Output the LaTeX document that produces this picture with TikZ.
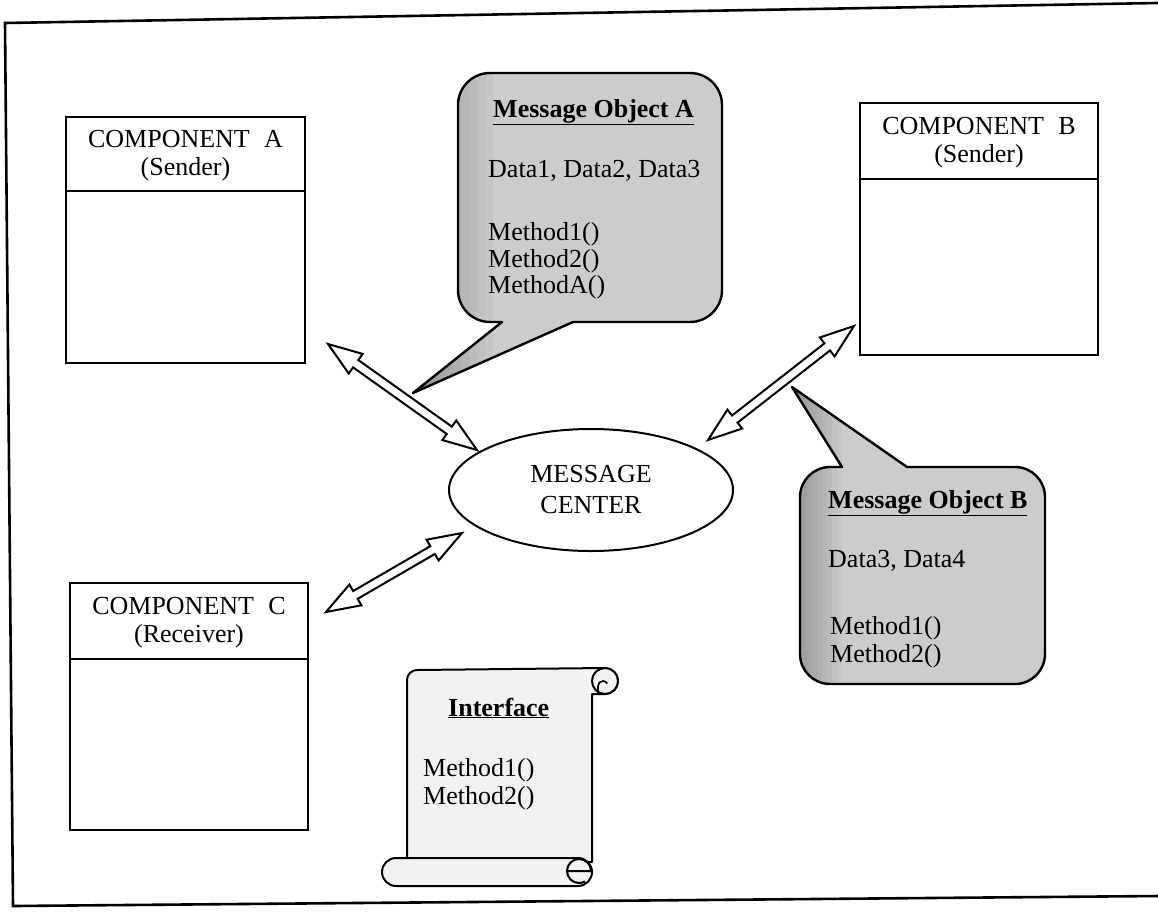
\documentclass[tikz,border=0pt]{standalone}
\usepackage{fontspec}
\setmainfont{Liberation Serif}
\usetikzlibrary{calc,shapes.geometric}

% half widths and head length of the double block arrows
\newcommand\arrHeadLen{34pt}
\newcommand\arrHeadHalf{12pt}
\newcommand\arrShaftHalf{4.5pt}

% hollow double-headed block arrow between two named points
\newcommand\biarrow[2]{%
  \path ($(#1)!\arrHeadLen!(#2)$) coordinate (hA) ($(#2)!\arrHeadLen!(#1)$) coordinate (hB);
  \draw[arrowbody] (#1) -- ($(hA)!\arrHeadHalf!90:(#2)$) -- ($(hA)!\arrShaftHalf!90:(#2)$)
    -- ($(hB)!\arrShaftHalf!-90:(#1)$) -- ($(hB)!\arrHeadHalf!-90:(#1)$) -- (#2)
    -- ($(hB)!\arrHeadHalf!90:(#1)$) -- ($(hB)!\arrShaftHalf!90:(#1)$)
    -- ($(hA)!\arrShaftHalf!-90:(#2)$) -- ($(hA)!\arrHeadHalf!-90:(#2)$) -- cycle;}

\tikzset{
  frameline/.style={line width=2.6pt, line join=miter},
  compbox/.style={draw, line width=2pt, fill=white, inner sep=0pt},
  headline/.style={line width=2pt},
  complabel/.style={align=center, inner sep=0pt, font=\fontsize{26}{28}\selectfont},
  hub/.style={ellipse, draw, line width=2pt, minimum width=284pt, minimum height=122pt,
    inner sep=0pt, align=center, font=\fontsize{26}{31}\selectfont},
  % speckled balloon: light grey, darkening in steps towards its left side
  balloon/.style={draw, line width=2.4pt, fill=black!20, line join=round,
    path picture={\foreach \k [evaluate=\k as \tone using 42-2.2*\k] in {0,...,9}{
      \fill[black!\tone] ($(path picture bounding box.north west)+(\k*#1,0)$)
        rectangle ($(path picture bounding box.south west)+(\k*#1+#1,0)$);}}},
  balloon/.default=8,
  scrollpart/.style={draw, line width=2pt, fill=black!5, line join=round},
  txt/.style={anchor=base west, inner sep=0pt, font=\fontsize{26}{28}\selectfont},
  arrowbody/.style={draw, line width=2pt, fill=white, line join=miter},
}

\begin{document}
\begin{tikzpicture}[x=1pt, y=-1pt]
\useasboundingbox (0,0) rectangle (1158,913);
\fill[white] (0,0) rectangle (1158,913);

% page frame
\draw[frameline] (1158,3) -- (5,23) -- (13,906) -- (1158,896);

% components
\node[compbox, minimum width=239pt, minimum height=246pt] (compA) at (185.5,240) {};
\draw[headline] ($(compA.north west)+(0,75)$) -- ($(compA.north east)+(0,75)$);
\node[complabel] (compAlabel) at (185.5,156) {COMPONENT\hspace{.55em}A\\(Sender)};

\node[compbox, minimum width=238pt, minimum height=252pt] (compB) at (979,229) {};
\draw[headline] ($(compB.north west)+(0,77)$) -- ($(compB.north east)+(0,77)$);
\node[complabel] (compBlabel) at (979,143) {COMPONENT\hspace{.55em}B\\(Sender)};

\node[compbox, minimum width=238pt, minimum height=247pt] (compC) at (189,706.5) {};
\draw[headline] ($(compC.north west)+(0,77)$) -- ($(compC.north east)+(0,77)$);
\node[complabel] (compClabel) at (189,623) {COMPONENT\hspace{.55em}C\\(Receiver)};

% message center
\node[hub] (hub) at (591,490) {MESSAGE\\CENTER};

% message object A balloon
\draw[balloon=8] (458,105) arc(180:270:32) -- (690,73) arc(270:360:32) -- (722,290)
  arc(0:90:32) -- (573,322) -- (413,393) -- (502,322) -- (490,322) arc(90:180:32) -- cycle;
\node[txt] (moaTitle) at (493,117) {\underline{\textbf{Message Object A}}};
\node[txt] (moaData) at (488,177) {Data1, Data2, Data3};
\node[txt] (moaM1) at (488,240) {Method1()};
\node[txt] (moaM2) at (488,267) {Method2()};
\node[txt] (moaM3) at (488,293) {MethodA()};

% message object B balloon
\draw[balloon=5] (800,497) arc(180:270:30) -- (842,467) -- (792,387) -- (907,467)
  -- (1015,467) arc(270:360:30) -- (1045,654) arc(0:90:30) -- (830,684)
  arc(90:180:30) -- cycle;
\node[txt] (mobTitle) at (828,508) {\underline{\textbf{Message Object B}}};
\node[txt] (mobData) at (828,567) {Data3, Data4};
\node[txt] (mobM1) at (830,634) {Method1()};
\node[txt] (mobM2) at (830,662) {Method2()};

% interface scroll
\draw[scrollpart] (407,862) -- (407,680) arc(180:270:10) -- (605,668) arc(270:450:13)
  -- (592,694) -- (592,862) -- cycle;
\draw[scrollpart] (605,681) circle[radius=13];
\draw[line width=1.6pt] (598,693) -- (598,686) arc(180:330:5);
\draw[scrollpart] (396,858) -- (578,858) arc(270:450:14) -- (396,886) arc(90:270:14) -- cycle;
\draw[line width=2pt] (567,871) -- (591,871) arc(0:-300:12);
\node[txt] (ifTitle) at (448,716) {\underline{\textbf{Interface}}};
\node[txt] (ifM1) at (423,776) {Method1()};
\node[txt] (ifM2) at (423,804) {Method2()};

% arrow end points
\coordinate (pA1) at ($(compA.south east)+(22,-20)$);
\coordinate (pA2) at ($(hub.center)+(-114,-40)$);
\coordinate (pB1) at ($(compB.south west)+(-5,-30)$);
\coordinate (pB2) at ($(hub.center)+(117,-50)$);
\coordinate (pC1) at ($(compC.north east)+(17,30)$);
\coordinate (pC2) at ($(hub.center)+(-129,43)$);

\biarrow{pA1}{pA2}
\biarrow{pB1}{pB2}
\biarrow{pC1}{pC2}
\end{tikzpicture}
\end{document}
